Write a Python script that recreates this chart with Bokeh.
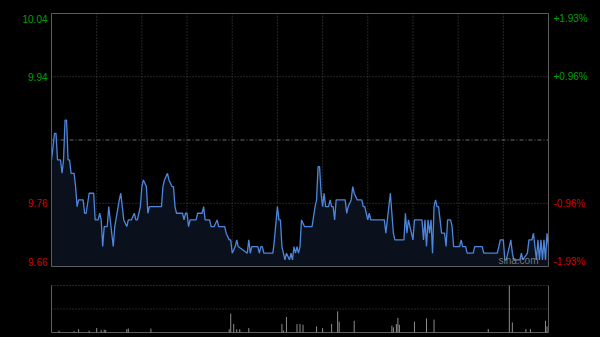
from bokeh.plotting import figure
from bokeh.models import Range1d, ColumnDataSource
from bokeh.core.properties import value
from bokeh.layouts import column
from bokeh.embed import file_html
from bokeh.resources import INLINE

# ---------------- data ----------------
minutes = [0, 2, 3, 4, 6, 7, 8, 9, 10, 11, 12, 13, 15, 16, 17, 18, 21, 22, 23, 25,
           28, 29, 31, 32, 33, 34, 35, 37, 38, 39, 41, 42, 45, 46, 47, 48, 50, 51, 53, 55,
           56, 57, 58, 59, 60, 61, 63, 64, 65, 73, 74, 75, 77, 78, 80, 81, 82, 83, 87, 88,
           89, 90, 91, 92, 96, 97, 100, 101, 102, 105, 106, 108, 110, 111, 115, 116, 118, 119, 120, 122,
           123, 124, 130, 131, 132, 133, 137, 138, 139, 140, 141, 147, 148, 150, 151, 152, 153, 155, 156, 158,
           159, 160, 161, 162, 163, 164, 165, 166, 168, 173, 175, 176, 177, 178, 179, 180, 181, 182, 184, 185,
           186, 187, 188, 189, 195, 196, 197, 199, 200, 201, 203, 206, 207, 208, 209, 210, 211, 212, 221, 222,
           223, 225, 227, 228, 234, 235, 236, 237, 238, 239, 240, 241, 246, 247, 248, 249, 250, 251, 252, 253,
           254, 255, 256, 257, 258, 259, 261, 262, 263, 265, 266, 267, 271, 272, 273, 275, 276, 280, 281, 286,
           287, 296, 297, 298, 300, 301, 302, 303, 305, 306, 307, 311, 312, 313, 316, 317, 319, 320, 321, 322,
           323, 324, 325, 326, 327, 328, 329, 330]
prices = [9.82, 9.86, 9.86, 9.82, 9.82, 9.80, 9.82, 9.88, 9.88, 9.82, 9.82, 9.80, 9.80, 9.78, 9.75, 9.76, 9.76, 9.74, 9.74, 9.77,
          9.77, 9.73, 9.73, 9.74, 9.73, 9.69, 9.72, 9.72, 9.75, 9.73, 9.69, 9.72, 9.76, 9.77, 9.75, 9.73, 9.72, 9.73, 9.73, 9.74,
          9.73, 9.73, 9.74, 9.75, 9.78, 9.79, 9.78, 9.74, 9.75, 9.75, 9.78, 9.79, 9.80, 9.79, 9.78, 9.78, 9.75, 9.74, 9.74, 9.73,
          9.74, 9.74, 9.72, 9.73, 9.73, 9.74, 9.74, 9.75, 9.73, 9.73, 9.72, 9.72, 9.73, 9.72, 9.72, 9.71, 9.70, 9.70, 9.68, 9.69,
          9.70, 9.69, 9.68, 9.70, 9.68, 9.69, 9.69, 9.68, 9.69, 9.69, 9.68, 9.68, 9.70, 9.75, 9.73, 9.73, 9.69, 9.67, 9.68, 9.67,
          9.68, 9.67, 9.69, 9.68, 9.69, 9.68, 9.69, 9.73, 9.72, 9.72, 9.75, 9.76, 9.81, 9.81, 9.77, 9.75, 9.77, 9.75, 9.75, 9.76,
          9.75, 9.75, 9.73, 9.76, 9.76, 9.74, 9.75, 9.76, 9.78, 9.77, 9.76, 9.76, 9.75, 9.75, 9.74, 9.73, 9.74, 9.73, 9.73, 9.71,
          9.73, 9.77, 9.71, 9.70, 9.70, 9.74, 9.71, 9.73, 9.72, 9.71, 9.70, 9.73, 9.73, 9.70, 9.73, 9.69, 9.73, 9.71, 9.73, 9.68,
          9.75, 9.76, 9.75, 9.75, 9.73, 9.71, 9.71, 9.69, 9.73, 9.73, 9.72, 9.69, 9.69, 9.70, 9.69, 9.69, 9.68, 9.68, 9.69, 9.69,
          9.68, 9.68, 9.69, 9.70, 9.70, 9.67, 9.67, 9.68, 9.70, 9.68, 9.67, 9.67, 9.68, 9.67, 9.68, 9.70, 9.70, 9.71, 9.69, 9.67,
          9.70, 9.67, 9.70, 9.67, 9.70, 9.67, 9.71, 9.69]

prev_close = 9.85
price_low, price_high = 9.66, 10.04
price_ticks = [10.04, 9.945, 9.755, 9.66]
price_labels = ["10.04", "9.94", "9.76", "9.66"]
pct_labels = ["+1.93%", "+0.96%", "-0.96%", "-1.93%"]
session_minutes = 330
time_grid = [30, 60, 90, 120, 150, 180, 210, 240, 270, 300]

vol_minutes = [5, 15, 18, 25, 30, 33, 35, 36, 50, 51, 66, 118, 119, 121, 123, 125, 131, 153, 154, 156,
               163, 165, 167, 176, 180, 186, 190, 191, 201, 226, 227, 229, 230, 231, 241, 249, 254, 290, 304, 306,
               315, 318, 328, 329]
vol_values = [40, 30, 70, 40, 95, 50, 60, 50, 70, 85, 85, 70, 400, 180, 70, 70, 95, 180, 40, 330,
              180, 180, 165, 130, 95, 180, 450, 230, 250, 145, 110, 180, 310, 165, 230, 300, 275, 75, 1000, 215,
              75, 75, 250, 130]
vol_max = 1000

# ---------------- styles ----------------
BG = "#000000"
FRAME = "#5c5c5c"
GRID = "#4a4a4a"
UP = "#00a000"
DOWN = "#d40000"
LINE = "#4d86dc"
FONT = "Liberation Sans"

W = 600
PL, PR = 51, 52
ppx_x = (W - PL - PR) / session_minutes
x_lo, x_hi = -PL / ppx_x, session_minutes + PR / ppx_x

# price panel pixel geometry (canvas 600 x 276, data box 13 px from top, 10 px from bottom)
H1, PT1, PB1 = 276, 13, 10
ppx_y1 = (H1 - PT1 - PB1) / (price_high - price_low)

# ---------------- price chart (frame spans the whole canvas so labels can sit in the margins) ----------------
p = figure(width=W, height=H1, output_backend="svg", toolbar_location=None,
           x_axis_type=None, y_axis_type=None,
           x_range=Range1d(x_lo, x_hi),
           y_range=Range1d(price_low - PB1 / ppx_y1, price_high + PT1 / ppx_y1),
           min_border=0, min_border_left=0, min_border_right=0, min_border_top=0, min_border_bottom=0)
p.background_fill_color = BG
p.border_fill_color = BG
p.outline_line_color = None

p.segment(x0=time_grid, y0=price_low, x1=time_grid, y1=price_high,
          line_color=GRID, line_dash="1 2", line_width=1)
mid_ticks = price_ticks[1:3]
p.segment(x0=0, y0=mid_ticks, x1=session_minutes, y1=mid_ticks,
          line_color=GRID, line_dash="1 2", line_width=1)
p.segment(x0=0, y0=prev_close, x1=session_minutes, y1=prev_close,
          line_color="#6a6a6a", line_dash="4 2 1 2", line_width=1)

p.varea(x=minutes, y1=price_low, y2=prices, fill_color="#0b111c", fill_alpha=1)
p.line(minutes, prices, line_color=LINE, line_width=1.3)

p.quad(left=0, right=session_minutes, bottom=price_low, top=price_high,
       fill_color=None, line_color=FRAME, line_width=1)

label_colors = [UP if v > prev_close else DOWN for v in price_ticks]
label_offsets = [5, 0, 0, -5]
src = ColumnDataSource(dict(y=price_ticks, lab=price_labels, pct=pct_labels,
                            col=label_colors, off=label_offsets,
                            xl=[0] * len(price_ticks), xr=[session_minutes] * len(price_ticks)))
p.text(x="xl", y="y", text="lab", source=src, x_offset=-4, y_offset="off",
       text_align="right", text_baseline="middle", text_color="col",
       text_font=value(FONT), text_font_size="10px")
p.text(x="xr", y="y", text="pct", source=src, x_offset=5, y_offset="off",
       text_align="left", text_baseline="middle", text_color="col",
       text_font=value(FONT), text_font_size="10px")

p.text(x=[session_minutes], y=[price_low], text=["sina.com"], x_offset=-10, y_offset=-1,
       text_align="right", text_baseline="bottom", text_color="#8a8a8a", text_alpha=0.85,
       text_font=value(FONT), text_font_size="10px")

# ---------------- volume chart (canvas 600 x 61, data box 9 px from top, 5 px from bottom) ----------------
H2, PT2, PB2 = 61, 9, 5
ppx_y2 = (H2 - PT2 - PB2) / vol_max
q = figure(width=W, height=H2, output_backend="svg", toolbar_location=None,
           x_axis_type=None, y_axis_type=None,
           x_range=Range1d(x_lo, x_hi),
           y_range=Range1d(-PB2 / ppx_y2, vol_max + PT2 / ppx_y2),
           min_border=0, min_border_left=0, min_border_right=0, min_border_top=0, min_border_bottom=0)
q.background_fill_color = BG
q.border_fill_color = BG
q.outline_line_color = None

q.segment(x0=0, y0=[vol_max, vol_max / 2], x1=session_minutes, y1=[vol_max, vol_max / 2],
          line_color=GRID, line_dash="1 2", line_width=1)
q.segment(x0=0, y0=0, x1=session_minutes, y1=0, line_color=FRAME, line_width=1)
q.segment(x0=[0, session_minutes], y0=0, x1=[0, session_minutes], y1=vol_max,
          line_color=FRAME, line_width=1)

q.segment(x0=vol_minutes, y0=0, x1=vol_minutes, y1=vol_values, line_color="#8c8c8c", line_width=1)

layout = column(p, q, spacing=0)
layout.styles = {"background-color": "#000000"}

open("out.html", "w").write(file_html(layout, INLINE))
